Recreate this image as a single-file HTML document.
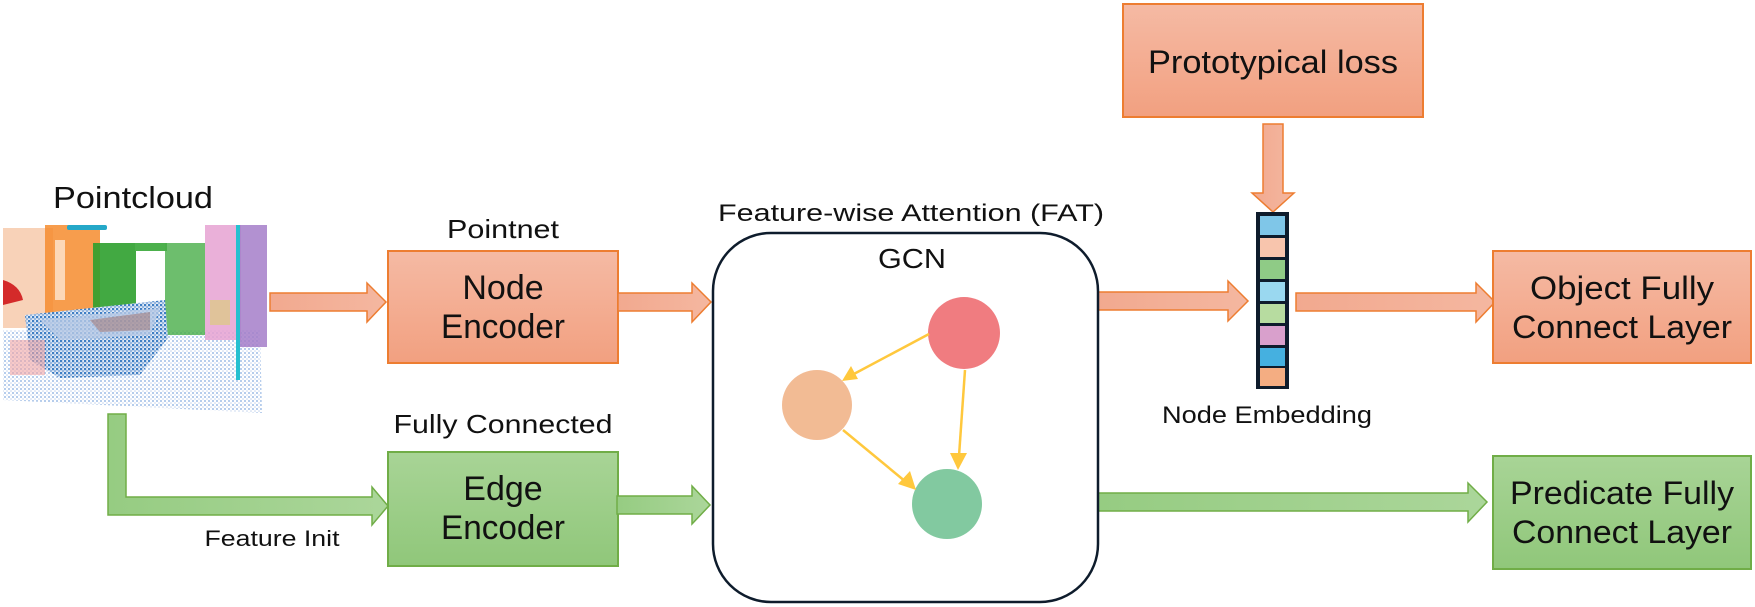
<!DOCTYPE html>
<html><head><meta charset="utf-8"><style>
html,body{margin:0;padding:0;background:#fff;}
svg{display:block;}
text{font-family:"Liberation Sans",sans-serif;fill:#111;}
</style></head><body>
<svg width="1755" height="607" viewBox="0 0 1755 607" xmlns="http://www.w3.org/2000/svg">
<defs>
<linearGradient id="og" x1="0" y1="0" x2="0" y2="1"><stop offset="0" stop-color="#f5baa4"/><stop offset="1" stop-color="#f2a080"/></linearGradient>
<linearGradient id="gg" x1="0" y1="0" x2="0" y2="1"><stop offset="0" stop-color="#a8d496"/><stop offset="1" stop-color="#90c77a"/></linearGradient>
<linearGradient id="oa" x1="0" y1="0" x2="1" y2="0"><stop offset="0" stop-color="#f2a98f"/><stop offset="1" stop-color="#f4b7a0"/></linearGradient>
<linearGradient id="ga" x1="0" y1="0" x2="1" y2="0"><stop offset="0" stop-color="#96cc82"/><stop offset="1" stop-color="#abd69a"/></linearGradient>
<pattern id="dots" width="4" height="4" patternUnits="userSpaceOnUse"><rect width="4" height="4" fill="#fff"/><circle cx="1" cy="1" r="1" fill="#9fbde6"/><circle cx="3" cy="3" r="0.8" fill="#c3d4ee"/></pattern>
<pattern id="bdots" width="4" height="4" patternUnits="userSpaceOnUse"><rect width="4" height="4" fill="#dfe8f5"/><circle cx="1" cy="1" r="1.3" fill="#3f7fc4"/><circle cx="3" cy="3" r="1" fill="#7da6d8"/></pattern>
</defs>

<!-- Pointcloud -->
<text x="133" y="208" font-size="31" text-anchor="middle" textLength="160" lengthAdjust="spacingAndGlyphs">Pointcloud</text>
<g>
<polygon points="3,330 260,330 262,413 3,400" fill="url(#dots)"/>
<rect x="3" y="228" width="50" height="100" fill="#f8d2b8"/>
<rect x="45" y="225" width="55" height="100" fill="#f68c2e" opacity="0.85"/>
<rect x="55" y="240" width="10" height="60" fill="#fff" opacity="0.6"/>
<rect x="93" y="243" width="43" height="80" fill="#2da02d" opacity="0.9"/>
<rect x="135" y="243" width="32" height="8" fill="#4cb04c"/>
<rect x="165" y="243" width="40" height="92" fill="#48ae48" opacity="0.8"/>
<rect x="205" y="225" width="36" height="115" fill="#e6a2d2" opacity="0.85"/>
<rect x="240" y="225" width="27" height="122" fill="#a57ec9" opacity="0.85"/>
<rect x="236" y="225" width="4" height="155" fill="#25c0d0"/>
<rect x="67" y="225" width="40" height="5" rx="2" fill="#25a8c8"/>
<path d="M3,280 Q20,285 23,300 L3,305 z" fill="#d42a2a"/>
<polygon points="25,315 165,300 168,338 140,375 60,378 30,360" fill="url(#bdots)"/>
<polygon points="40,320 160,308 150,335 60,340" fill="#b9cbe6" opacity="0.8"/>
<polygon points="90,320 150,312 150,330 100,332" fill="#a0706a" opacity="0.5"/>
<rect x="10" y="340" width="35" height="35" fill="#f2a5a5" opacity="0.6"/>
<rect x="210" y="300" width="20" height="25" fill="#d8d070" opacity="0.6"/>
</g>

<!-- Pointnet / Node Encoder -->
<text x="503" y="238" font-size="26" text-anchor="middle" textLength="112" lengthAdjust="spacingAndGlyphs">Pointnet</text>
<rect x="388" y="251" width="230" height="112" fill="url(#og)" stroke="#ed7d31" stroke-width="2"/>
<text x="503" y="299" font-size="34" text-anchor="middle">Node</text>
<text x="503" y="338" font-size="34" text-anchor="middle" textLength="124" lengthAdjust="spacingAndGlyphs">Encoder</text>

<!-- Fully Connected / Edge Encoder -->
<text x="503" y="433" font-size="26" text-anchor="middle" textLength="219" lengthAdjust="spacingAndGlyphs">Fully Connected</text>
<rect x="388" y="452" width="230" height="114" fill="url(#gg)" stroke="#70ad47" stroke-width="2"/>
<text x="503" y="500" font-size="34" text-anchor="middle">Edge</text>
<text x="503" y="539" font-size="34" text-anchor="middle" textLength="124" lengthAdjust="spacingAndGlyphs">Encoder</text>
<text x="272" y="546" font-size="22" text-anchor="middle" textLength="135" lengthAdjust="spacingAndGlyphs">Feature Init</text>

<!-- orange arrows -->
<g fill="url(#oa)" stroke="#ed7d31" stroke-width="1.5">
<polygon points="270,293 367,293 367,283 386,302 367,322 367,311 270,311"/>
<polygon points="618,293 692,293 692,283 711,302 692,322 692,311 618,311"/>
<polygon points="1098,292 1228,292 1228,281 1248,301 1228,321 1228,310 1098,310"/>
<polygon points="1296,293 1476,293 1476,283 1495,302 1476,322 1476,311 1296,311"/>
<polygon points="1263,124 1283,124 1283,193 1294,193 1273,212 1252,193 1263,193"/>
</g>
<!-- green arrows -->
<g fill="url(#ga)" stroke="#70ad47" stroke-width="1.5">
<polygon points="108,414 126,414 126,497 372,497 372,487 388,506 372,525 372,515 108,515"/>
<polygon points="617,496 692,496 692,486 710,505 692,524 692,514 617,514"/>
<polygon points="1098,493 1468,493 1468,483 1487,502 1468,522 1468,511 1098,511"/>
</g>

<!-- GCN -->
<text x="718" y="221" font-size="24" textLength="386" lengthAdjust="spacingAndGlyphs">Feature-wise Attention (FAT)</text>
<rect x="713" y="233" width="385" height="369" rx="58" ry="58" fill="none" stroke="#0e1c2c" stroke-width="2.5"/>
<text x="912" y="268" font-size="28" text-anchor="middle" textLength="68" lengthAdjust="spacingAndGlyphs">GCN</text>
<circle cx="964" cy="333" r="36" fill="#f07c80"/>
<circle cx="817" cy="405" r="35" fill="#f2bb94"/>
<circle cx="947" cy="504" r="35" fill="#82c9a0"/>
<g stroke="#ffc83d" stroke-width="2.5" fill="none">
<line x1="929" y1="334" x2="852" y2="375"/>
<line x1="965" y1="370" x2="959" y2="456"/>
<line x1="843" y1="430" x2="906" y2="482"/>
</g>
<g fill="#ffc83d">
<polygon points="842,381 851,366 858,379"/>
<polygon points="958,470 950,453 967,453"/>
<polygon points="916,490 898,484 910,471"/>
</g>

<!-- Prototypical loss -->
<rect x="1123" y="4" width="300" height="113" fill="url(#og)" stroke="#ed7d31" stroke-width="2"/>
<text x="1273" y="73" font-size="32" text-anchor="middle" textLength="250" lengthAdjust="spacingAndGlyphs">Prototypical loss</text>

<!-- Node embedding -->
<rect x="1257" y="213" width="31" height="175" fill="#0e1c2c" stroke="#0e1c2c" stroke-width="2"/>
<g>
<rect x="1260" y="216" width="25" height="19" fill="#7fc6e8"/>
<rect x="1260" y="238" width="25" height="19" fill="#f8c5ad"/>
<rect x="1260" y="260" width="25" height="19" fill="#8fcb86"/>
<rect x="1260" y="282" width="25" height="19" fill="#9ad8f0"/>
<rect x="1260" y="304" width="25" height="19" fill="#b7dca0"/>
<rect x="1260" y="326" width="25" height="19" fill="#d9a0cc"/>
<rect x="1260" y="348" width="25" height="18" fill="#45b0e0"/>
<rect x="1260" y="368" width="25" height="18" fill="#f4ad82"/>
</g>
<text x="1267" y="423" font-size="24" text-anchor="middle" textLength="210" lengthAdjust="spacingAndGlyphs">Node Embedding</text>

<!-- Output boxes -->
<rect x="1493" y="251" width="258" height="112" fill="url(#og)" stroke="#ed7d31" stroke-width="2"/>
<text x="1622" y="299" font-size="32" text-anchor="middle" textLength="184" lengthAdjust="spacingAndGlyphs">Object Fully</text>
<text x="1622" y="338" font-size="32" text-anchor="middle" textLength="220" lengthAdjust="spacingAndGlyphs">Connect Layer</text>
<rect x="1493" y="456" width="258" height="113" fill="url(#gg)" stroke="#70ad47" stroke-width="2"/>
<text x="1622" y="504" font-size="32" text-anchor="middle" textLength="224" lengthAdjust="spacingAndGlyphs">Predicate Fully</text>
<text x="1622" y="543" font-size="32" text-anchor="middle" textLength="220" lengthAdjust="spacingAndGlyphs">Connect Layer</text>
</svg>
</body></html>
